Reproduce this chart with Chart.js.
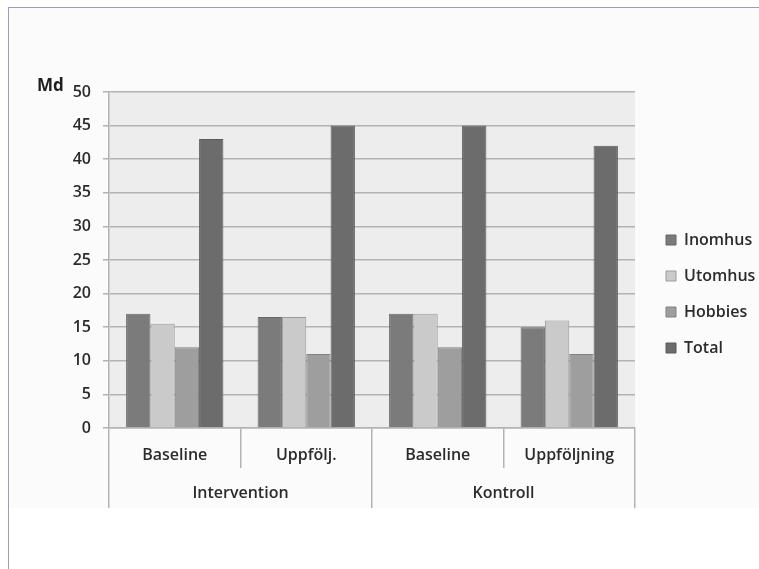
<!DOCTYPE html>
<html>
<head>
<meta charset="utf-8">
<script src="https://cdn.jsdelivr.net/npm/chart.js@4"></script>
<style>
  html, body { margin: 0; padding: 0; background: #ffffff; }
  body { width: 759px; height: 569px; position: relative; overflow: hidden; }
  #frame {
    position: absolute; left: 8px; top: 7px; width: 800px; height: 600px;
    border-left: 1px solid #a597c4; border-top: 1px solid #a597c4;
  }
  #panel { position: absolute; left: 9px; top: 8px; width: 760px; height: 500px; background: #fbfbfb; }
  #chart { position: absolute; left: 0; top: 0; }
</style>
</head>
<body>
<div id="panel"></div>
<div id="frame"></div>
<canvas id="chart" width="759" height="569"></canvas>
<script>
// Median minutes per activity type, by group and measurement occasion
const categories = ['Baseline', 'Uppfölj.', 'Baseline', 'Uppföljning'];
const groups = ['Intervention', 'Kontroll'];
const inomhus = [17, 16.5, 17, 15];
const utomhus = [15.5, 16.5, 17, 16];
const hobbies = [12, 11, 12, 11];
const total = [43, 45, 45, 42];
const yMax = 50;
const yStep = 5;

const gridColor = '#b3b3b3';
const textColor = '#2b2b2b';

Chart.defaults.font.family = "'Open Sans', sans-serif";
Chart.defaults.font.size = 16;
Chart.defaults.font.weight = '600';
Chart.defaults.color = textColor;

// Light grey fill behind the plotting area
const plotBackground = {
  id: 'plotBackground',
  beforeDraw(chart) {
    const { ctx, chartArea: a } = chart;
    ctx.save();
    ctx.fillStyle = '#ededed';
    ctx.fillRect(a.left, a.top, a.right - a.left, a.bottom - a.top);
    ctx.restore();
  }
};

new Chart(document.getElementById('chart'), {
  type: 'bar',
  data: {
    labels: categories,
    datasets: [
      { label: 'Inomhus', data: inomhus, backgroundColor: '#7b7b7b', borderColor: '#676767' },
      { label: 'Utomhus', data: utomhus, backgroundColor: '#cacaca', borderColor: '#9c9c9c' },
      { label: 'Hobbies', data: hobbies, backgroundColor: '#9e9e9e', borderColor: '#808080' },
      { label: 'Total', data: total, backgroundColor: '#6c6c6c', borderColor: '#5a5a5a' }
    ]
  },
  options: {
    responsive: false,
    animation: false,
    devicePixelRatio: 1,
    layout: { padding: { left: 37, top: 80, right: 0, bottom: 61 } },
    datasets: { bar: { categoryPercentage: 0.74, barPercentage: 1.0, borderWidth: 1 } },
    plugins: {
      title: {
        display: true,
        text: 'Md',
        align: 'start',
        color: '#1e1e1e',
        font: { size: 17, weight: 'bold', lineHeight: '12px' },
        padding: 0
      },
      legend: {
        position: 'right',
        align: 'center',
        maxWidth: 113,
        labels: {
          boxWidth: 10,
          boxHeight: 10,
          padding: 20,
          color: textColor,
          font: { size: 16, weight: '600' }
        }
      },
      tooltip: { enabled: false }
    },
    scales: {
      y: {
        min: 0,
        max: yMax,
        ticks: { stepSize: yStep, padding: 12, color: textColor },
        grid: { color: gridColor, lineWidth: 1.5, tickLength: 6 },
        border: { color: gridColor, width: 1.5 },
        afterFit(s) { s.width = 72; }
      },
      x: {
        type: 'category',
        position: 'bottom',
        grid: { offset: true, drawOnChartArea: false, tickLength: 40, color: gridColor, lineWidth: 1.5 },
        border: { color: gridColor, width: 1.5 },
        ticks: { padding: -22, color: textColor, maxRotation: 0, autoSkip: false },
        afterFit(s) { s.height = 40; }
      },
      x2: {
        type: 'category',
        labels: groups,
        position: 'bottom',
        offset: true,
        grid: { offset: true, drawOnChartArea: false, tickLength: 40, color: gridColor, lineWidth: 1.5 },
        border: { display: false },
        ticks: { padding: -24, color: textColor, maxRotation: 0, autoSkip: false },
        afterFit(s) { s.height = 40; }
      },
      gap: {
        type: 'linear',
        position: 'right',
        grid: { display: false },
        ticks: { display: false },
        border: { display: false },
        afterFit(s) { s.width = 11; }
      }
    }
  },
  plugins: [plotBackground]
});
</script>
</body>
</html>
